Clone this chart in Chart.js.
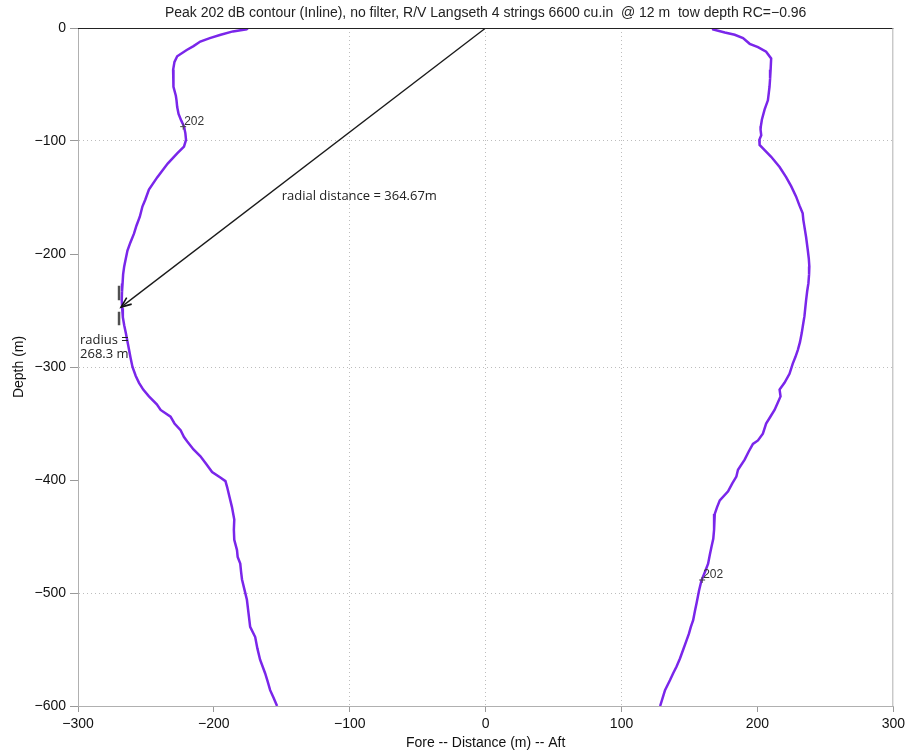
<!DOCTYPE html>
<html>
<head>
<meta charset="utf-8">
<script src="https://cdn.jsdelivr.net/npm/chart.js@4/dist/chart.umd.min.js"></script>
<style>
  html, body { margin: 0; padding: 0; background: #fff; }
  #wrap { width: 909px; height: 754px; }
</style>
</head>
<body>
<div id="wrap"><canvas id="myChart" width="909" height="754"></canvas></div>
<script>
// contour: depth (m) and horizontal distance (m)
var leftDepth = [0, -1.2, -3, -6, -9, -12, -16, -19.5, -25, -30, -37, -45, -52, -60, -64, -70, -76, -82, -87, -93, -99, -105, -111, -120, -132, -143, -152, -158, -167, -175, -182, -190, -197, -205, -211, -218, -226, -233, -241, -248, -256, -263, -270, -278, -285, -292, -300, -308, -314, -320, -326, -333, -338, -344, -350, -356, -362, -366, -373, -379, -386, -393, -398, -401, -406, -415, -424, -435, -444, -453, -462, -468, -474, -481, -488, -497, -506, -518, -530, -539, -549, -559, -571, -578, -586, -593, -600];
var leftDist = [-175, -176, -186, -195, -203, -210, -215, -220, -227, -229, -230, -230, -229.5, -228, -227.5, -227, -226, -224, -222, -221, -220.5, -222, -227, -234, -241.6, -247.8, -250.5, -252.6, -254.5, -257, -258.8, -261.5, -263.6, -265, -266, -266.8, -267.2, -267.6, -267.8, -267.5, -267, -266, -264.8, -263.5, -262.4, -261.3, -259.9, -257.5, -255.1, -252, -247.8, -242, -239.2, -231.9, -229, -224.5, -222, -219.6, -215, -209.9, -205.5, -201.3, -195, -191.5, -190.3, -188.5, -186.7, -185, -185.3, -185, -183, -182.5, -180.6, -180, -179.3, -177.5, -175.7, -174.5, -173.3, -169.6, -168, -166, -162.3, -160.5, -158.6, -156, -153.5];

var rightDepth = [0, -1.2, -4, -6, -9, -14, -17, -21, -27, -37, -45, -52, -58, -64, -72, -81, -87, -90, -95, -99, -103.5, -108, -114, -123, -132, -140, -149, -157, -164, -170, -176, -185, -196, -204, -211, -218, -226, -233, -241, -248, -255, -263, -270, -278, -285, -291, -297, -306, -314, -320, -326, -332, -338, -344, -350, -359, -365, -368, -375, -382, -391, -397, -403, -410, -418, -424, -430, -444, -452, -459, -466, -474, -481, -489, -498, -509, -516, -524, -530, -536, -543, -550, -558, -565, -571, -577, -586, -593, -600];
var rightDist = [167, 167.4, 176, 183.3, 189.4, 194.3, 200.4, 206.4, 210.1, 209.7, 209.3, 208.9, 208.3, 207.7, 205.3, 203.3, 202.5, 202.3, 202.8, 201.4, 201.6, 205.3, 210.1, 216.3, 221.1, 224.8, 228.4, 230.9, 233.3, 233.8, 234.6, 235.8, 237, 237.8, 238.2, 238, 237.5, 236.6, 235.8, 235.2, 234.6, 233.5, 232.6, 231.3, 229.7, 228, 226, 223.6, 219.9, 216.3, 217, 214.8, 212.6, 209.5, 206.4, 204, 200.4, 196.7, 193.5, 190.6, 185.7, 184.5, 181.5, 178.4, 172.3, 170.3, 168.6, 168.1, 167.5, 166.2, 165, 163.7, 161.5, 158.8, 157, 155.2, 154, 152.7, 151, 149.6, 147.5, 145.4, 143, 140.5, 138, 135.7, 132, 130.2, 128.4];

var radius = 268.3;
var radialDistance = 364.67;
var arrowDepth = -247;
var markerX = -269.8;

var xTicks = [-300, -200, -100, 0, 100, 200, 300];
var yTicks = [0, -100, -200, -300, -400, -500, -600];
var xGridAt = [-100, 0, 100];
var yGridAt = [-100, -300, -500];

var chartTitle = 'Peak 202 dB contour (Inline), no filter, R/V Langseth 4 strings 6600 cu.in  @ 12 m  tow depth RC=\u22120.96';

function pairs(xs, ys) {
  return xs.map(function (x, i) { return { x: x, y: ys[i] }; });
}
function minus(v) { return String(v).replace('-', '\u2212'); }

var purple = '#7a26ea';

var decor = {
  id: 'decor',
  afterDatasetsDraw: function (chart) {
    var c = chart.ctx, a = chart.chartArea;
    var xs = chart.scales.x, ys = chart.scales.y;
    c.save();
    // frame: black top, grey right
    c.lineWidth = 1;
    c.strokeStyle = '#222';
    c.beginPath(); c.moveTo(a.left, a.top + 0.5); c.lineTo(a.right, a.top + 0.5); c.stroke();
    c.strokeStyle = '#b0b0b0';
    c.beginPath(); c.moveTo(a.right - 0.5, a.top); c.lineTo(a.right - 0.5, a.bottom); c.stroke();

    // arrow head at the contour
    var x0 = xs.getPixelForValue(0), y0 = ys.getPixelForValue(0);
    var x1 = xs.getPixelForValue(-radius), y1 = ys.getPixelForValue(arrowDepth);
    var ang = Math.atan2(y1 - y0, x1 - x0);
    var L = 11, w = 0.38;
    c.strokeStyle = '#111'; c.lineWidth = 1.6;
    c.beginPath();
    c.moveTo(x1 - L * Math.cos(ang - w), y1 - L * Math.sin(ang - w));
    c.lineTo(x1, y1);
    c.lineTo(x1 - L * Math.cos(ang + w), y1 - L * Math.sin(ang + w));
    c.stroke();

    // labels
    c.fillStyle = '#222';
    c.font = '13px "Open Sans"';
    c.textBaseline = 'middle';
    c.textAlign = 'center';
    c.fillText('radial distance = ' + radialDistance + 'm', xs.getPixelForValue(-93), ys.getPixelForValue(-148.7));
    c.textAlign = 'left';
    c.fillText('radius =', xs.getPixelForValue(-298.5), ys.getPixelForValue(-276));
    c.fillText(radius + ' m', xs.getPixelForValue(-298.5), ys.getPixelForValue(-289));

    // contour labels
    c.font = '12px "Liberation Sans"';
    c.fillStyle = '#333';
    var labs = [[-222.6, -87.3], [159.3, -488.5]];
    labs.forEach(function (p) {
      var px = xs.getPixelForValue(p[0]), py = ys.getPixelForValue(p[1]);
      c.strokeStyle = '#444'; c.lineWidth = 1;
      c.beginPath();
      c.moveTo(px - 3, py); c.lineTo(px + 3, py);
      c.moveTo(px, py - 3); c.lineTo(px, py + 3);
      c.stroke();
      c.fillText('202', px + 1, py - 5);
    });

    // title
    c.font = '14px "Liberation Sans"';
    c.fillStyle = '#222';
    c.textAlign = 'center';
    c.fillText(chartTitle, (a.left + a.right) / 2, 13);
    c.restore();
  }
};

var ctx = document.getElementById('myChart').getContext('2d');
var chart = new Chart(ctx, {
  type: 'scatter',
  data: {
    datasets: [{
      data: pairs(leftDist, leftDepth),
      showLine: true, borderColor: purple, borderWidth: 2.5, pointRadius: 0
    }, {
      data: pairs(rightDist, rightDepth),
      showLine: true, borderColor: purple, borderWidth: 2.5, pointRadius: 0
    }, {
      // radial distance line
      data: [{ x: 0, y: 0 }, { x: -radius, y: arrowDepth }],
      showLine: true, borderColor: '#1a1a1a', borderWidth: 1.3, pointRadius: 0
    }, {
      // radius markers (upper)
      data: [{ x: markerX, y: -228 }, { x: markerX, y: -241 }],
      showLine: true, borderColor: '#505050', borderWidth: 2.5, pointRadius: 0
    }, {
      // radius markers (lower)
      data: [{ x: markerX, y: -251 }, { x: markerX, y: -263 }],
      showLine: true, borderColor: '#505050', borderWidth: 2.5, pointRadius: 0
    }]
  },
  options: {
    responsive: false,
    animation: false,
    layout: { padding: { top: 28, right: 13, left: 0, bottom: 0 } },
    plugins: { legend: { display: false }, tooltip: { enabled: false } },
    scales: {
      x: {
        type: 'linear', min: -300, max: 300,
        afterBuildTicks: function (s) { s.ticks = xTicks.map(function (v) { return { value: v }; }); },
        afterFit: function (s) { s.height = 48; },
        ticks: {
          color: '#111', padding: 4,
          font: { family: 'Liberation Sans', size: 14 },
          callback: function (v) { return minus(v); }
        },
        grid: {
          color: function (c) { return xGridAt.indexOf(c.tick && c.tick.value) >= 0 ? '#bdbdbd' : 'rgba(0,0,0,0)'; },
          tickColor: '#999', tickLength: 6, lineWidth: 1
        },
        border: { color: '#b0b0b0', width: 1, dash: [1, 3] },
        title: {
          display: true, text: 'Fore -- Distance (m) -- Aft', color: '#111',
          font: { family: 'Liberation Sans', size: 14 }, padding: { top: 0, bottom: 2 }
        }
      },
      y: {
        type: 'linear', min: -600, max: 0,
        afterBuildTicks: function (s) { s.ticks = yTicks.map(function (v) { return { value: v }; }); },
        afterFit: function (s) { s.width = 78; },
        ticks: {
          color: '#111', padding: 4,
          font: { family: 'Liberation Sans', size: 14 },
          callback: function (v) { return minus(v); }
        },
        grid: {
          color: function (c) { return yGridAt.indexOf(c.tick && c.tick.value) >= 0 ? '#bdbdbd' : 'rgba(0,0,0,0)'; },
          tickColor: '#999', tickLength: 8, lineWidth: 1
        },
        border: { color: '#b0b0b0', width: 1, dash: [1, 3] },
        title: {
          display: true, text: 'Depth (m)', color: '#111',
          font: { family: 'Liberation Sans', size: 14 }, padding: { top: 11, bottom: 4 }
        }
      }
    }
  },
  plugins: [decor]
});
</script>
</body>
</html>
